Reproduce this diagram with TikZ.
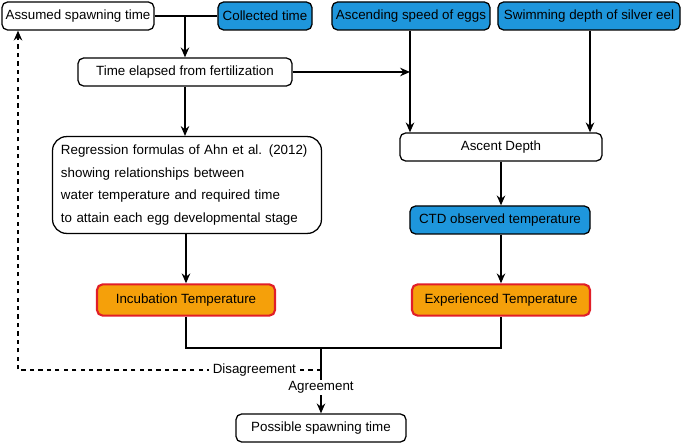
\documentclass[tikz,border=0pt]{standalone}
\usepackage{fontspec}
\setmainfont{Liberation Sans}
\usetikzlibrary{arrows.meta,positioning}
\definecolor{boxblue}{RGB}{30,150,220}
\definecolor{boxorange}{RGB}{245,160,10}
\definecolor{boxred}{RGB}{225,30,40}
\begin{document}
\begin{tikzpicture}[
    x=0.025cm, y=-0.025cm,
    plain/.style={rectangle, draw, line width=0.9pt, fill=white, rounded corners=4pt, minimum height=0.7cm, font=\fontsize{9.5}{11}\selectfont, inner sep=2pt},
    given/.style={plain, fill=boxblue},
    temp/.style={plain, fill=boxorange, draw=boxred, line width=1.5pt, minimum width=4.45cm, minimum height=0.78cm},
    arrow/.style={-{Stealth[length=7pt,width=6pt]}, line width=1.2pt}
]
\useasboundingbox (0,0) rectangle (685,444);

% Boites du haut
\node[plain, minimum width=3.8cm] (assumed) at (78,16) {Assumed spawning time};
\node[given, minimum width=2.35cm] (collected) at (265,16) {Collected time};
\node[given, minimum width=3.95cm] (speed) at (411,16) {Ascending speed of eggs};
\node[given, minimum width=4.55cm] (depth) at (589,16) {Swimming depth of silver eel};
\node[plain, minimum width=5.35cm] (elapsed) at (185,72) {Time elapsed from fertilization};

% Colonne gauche
\node[plain, rounded corners=10pt, text width=6.3cm, align=left, font=\fontsize{9.5}{16}\selectfont, inner sep=6pt] (regr) at (187,185)
    {Regression formulas of Ahn et al. (2012)\\showing relationships between\\water temperature and required time\\to attain each egg developmental stage};
\node[temp] (incub) at (186,300) {Incubation Temperature};

% Colonne droite
\node[plain, minimum width=5.05cm] (ascent) at (501,147) {Ascent Depth};
\node[given, minimum width=4.5cm] (ctd) at (500,220) {CTD observed temperature};
\node[temp] (exper) at (501,300) {Experienced Temperature};

% Resultat
\node[plain, minimum width=4.25cm] (possible) at (321,428) {Possible spawning time};

% Fleches principales
\draw[line width=1.2pt] (assumed.east) -- (collected.west);
\draw[arrow] (185,16) -- (elapsed.north);
\draw[arrow] (elapsed.east) -- (410,72);
\draw[arrow] (speed.south -| 410,0) -- (ascent.north -| 410,0);
\draw[arrow] (depth.south -| 590,0) -- (ascent.north -| 590,0);
\draw[arrow] (elapsed.south) -- (regr.north -| elapsed.south);
\draw[arrow] (regr.south -| incub.north) -- (incub.north);
\draw[arrow] (ascent.south) -- (ctd.north -| ascent.south);
\draw[arrow] (ctd.south -| exper.north) -- (exper.north);

% Comparaison
\coordinate (join) at (321,348);
\draw[line width=1.2pt] (incub.south) |- (join) -| (exper.south);
\draw[arrow] (join) -- (possible.north)
    node[pos=0.6, fill=white, inner sep=1pt, font=\fontsize{9.5}{11}\selectfont] {Agreement};
\draw[arrow, dashed] (321,370) -- (18,370)
    node[pos=0.22, fill=white, inner sep=3pt, font=\fontsize{9.5}{11}\selectfont] {Disagreement}
    -- (assumed.south -| 18,0);

\end{tikzpicture}
\end{document}
